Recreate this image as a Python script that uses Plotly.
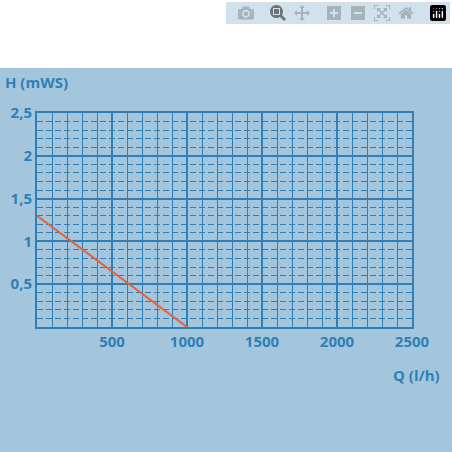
import plotly.graph_objects as go

q = [0, 1000]
h = [1.3, 0.0]
xticks = [500, 1000, 1500, 2000, 2500]
yticks = [0.5, 1, 1.5, 2, 2.5]
ylabels = ["0,5", "1", "1,5", "2", "2,5"]

blue = "#2f7fb8"
bg = "#a3c6dc"
fnt = dict(family="Open Sans", size=15, color=blue)

fig = go.Figure()
# invisible trace on the overlay axes so their minor grids render
fig.add_trace(go.Scatter(x=[0, 2500], y=[0, 2.5], xaxis="x2", yaxis="y2", mode="lines",
                         line=dict(width=0), hoverinfo="skip"))
fig.add_trace(go.Scatter(x=q, y=h, mode="lines", line=dict(color="#e8603a", width=2)))
fig.update_layout(
    width=452, height=452, paper_bgcolor=bg, plot_bgcolor=bg,
    margin=dict(l=37, r=40, t=113, b=125), showlegend=False,
    shapes=[dict(type="rect", xref="paper", yref="paper", x0=-0.2, x1=1.2,
                 y0=(452 - 68 - 125) / 214, y1=2, fillcolor="white", line_width=0, layer="above")],
    annotations=[
        dict(text="<b>H (mWS)</b>", xref="paper", yref="paper", x=-0.09, y=1.09,
             xanchor="left", yanchor="bottom", showarrow=False, font=fnt),
        dict(text="<b>Q (l/h)</b>", xref="paper", yref="paper", x=1.08, y=-0.17,
             xanchor="right", yanchor="top", showarrow=False, font=fnt),
    ],
    xaxis2=dict(overlaying="x", range=[0, 2500], dtick=100, showgrid=True, gridcolor=blue,
                gridwidth=1, showticklabels=False, zeroline=False, layer="below traces"),
    yaxis2=dict(overlaying="y", range=[0, 2.5], dtick=0.1, showgrid=True, gridcolor=blue,
                gridwidth=1, griddash="6px,3px", showticklabels=False, zeroline=False),
)
fig.update_xaxes(selector=dict(anchor="y"), range=[0, 2500], tickvals=xticks,
                 ticktext=[f"<b>{v}</b>" for v in xticks],
                 tickfont=fnt, showgrid=True, gridcolor=blue, gridwidth=1.8,
                 showline=True, linecolor=blue, linewidth=2, mirror=True, zeroline=False, ticks="")
fig.layout.xaxis.update(range=[0, 2500], tickvals=xticks, ticktext=[f"<b>{v}</b>" for v in xticks],
                        tickfont=fnt, showgrid=True, gridcolor=blue, gridwidth=1.8,
                        showline=True, linecolor=blue, linewidth=2, mirror=True, zeroline=False, ticks="")
fig.layout.yaxis.update(range=[0, 2.5], tickvals=yticks, ticktext=[f"<b>{t}</b>" for t in ylabels],
                        tickfont=fnt, showgrid=True, gridcolor=blue, gridwidth=1.8,
                        showline=True, linecolor=blue, linewidth=2, mirror=True, zeroline=False, ticks="")
fig.write_html("out.html")
with open("out.html") as f:
    html = f.read()
html = html.replace("<head>", "<head><style>body{margin:0;}</style>", 1)
with open("out.html", "w") as f:
    f.write(html)
